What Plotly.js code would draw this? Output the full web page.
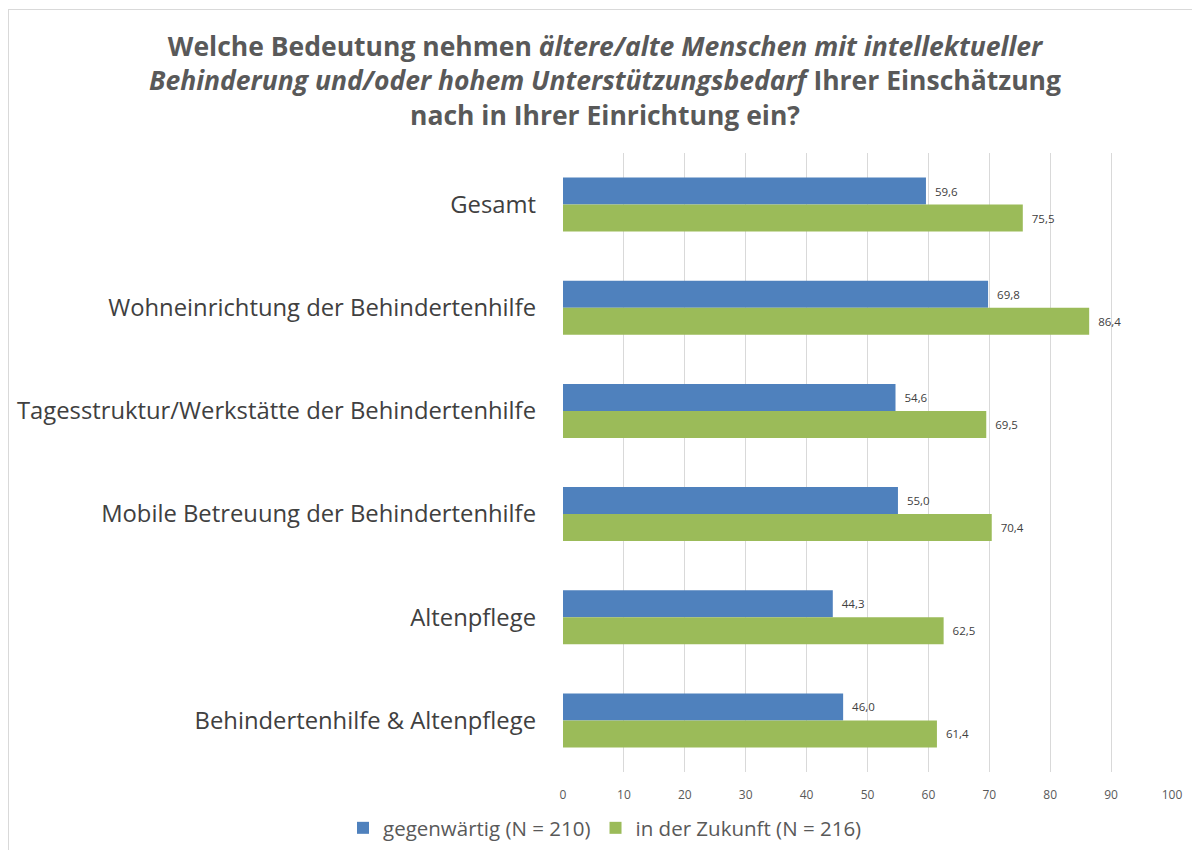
<!DOCTYPE html>
<html>
<head>
<meta charset="utf-8">
<script src="https://cdn.plot.ly/plotly-3.0.1.min.js"></script>
<style>
html,body{margin:0;padding:0;background:#fff;}
#chart{width:1192px;height:850px;}
#frame{position:absolute;left:8px;top:9px;width:1300px;height:1000px;border-left:1px solid #d9d9d9;border-top:1px solid #d9d9d9;pointer-events:none;}
</style>
</head>
<body>
<div id="chart"></div>
<div id="frame"></div>
<script>
const categories = [
  "Gesamt",
  "Wohneinrichtung der Behindertenhilfe",
  "Tagesstruktur/Werkstätte der Behindertenhilfe",
  "Mobile Betreuung der Behindertenhilfe",
  "Altenpflege",
  "Behindertenhilfe & Altenpflege"
];
const gegenwaertig = [59.6, 69.8, 54.6, 55.0, 44.3, 46.0];
const zukunft = [75.5, 86.4, 69.5, 70.4, 62.5, 61.4];
const seriesNames = ["gegenwärtig (N = 210)", "in der Zukunft (N = 216)"];
const xTicks = [0,10,20,30,40,50,60,70,80,90,100];

const FONT = "'Open Sans', Lato, sans-serif";
const labelFont = {family: FONT, size: 11.5, color: "#404040"};

const traces = [
  {type: "bar", orientation: "h", name: seriesNames[0], y: categories, x: gegenwaertig,
   marker: {color: "#4F81BD"}, texttemplate: "\u00a0\u00a0%{x:.1f}",
   textposition: "outside", textfont: labelFont, cliponaxis: false, hoverinfo: "x"},
  {type: "bar", orientation: "h", name: seriesNames[1], y: categories, x: zukunft,
   marker: {color: "#9BBB59"}, texttemplate: "\u00a0\u00a0%{x:.1f}",
   textposition: "outside", textfont: labelFont, cliponaxis: false, hoverinfo: "x"}
];

const layout = {
  width: 1192, height: 850,
  paper_bgcolor: "#fff", plot_bgcolor: "#fff",
  separators: ",.",
  margin: {l: 563, r: 20, t: 153, b: 78},
  font: {family: FONT, color: "#595959"},
  title: {
    text: "<b>Welche Bedeutung nehmen <i>ältere/alte Menschen mit intellektueller</i><br><i>Behinderung und/oder hohem Unterstützungsbedarf</i> Ihrer Einschätzung<br>nach in Ihrer Einrichtung ein?</b>",
    font: {family: FONT, size: 26.5, color: "#595959"},
    x: 605/1192, xref: "container", xanchor: "center",
    y: 1 - 56/850, yref: "container", yanchor: "top"
  },
  barmode: "group", bargap: 0.476, bargroupgap: 0,
  xaxis: {
    range: [0, 100], tickvals: xTicks, ticktext: xTicks.map(String),
    showgrid: true, gridcolor: "#d9d9d9", gridwidth: 1, zeroline: false,
    showline: false, ticks: "", ticklabelstandoff: 14,
    tickfont: {family: FONT, size: 12, color: "#595959"}, fixedrange: true
  },
  yaxis: {
    autorange: "reversed", showgrid: false, zeroline: false, showline: false,
    ticks: "", ticklabelstandoff: 26,
    tickfont: {family: FONT, size: 23.8, color: "#404040"}, fixedrange: true
  },
  showlegend: true,
  legend: {
    orientation: "h", x: 605/1192, xref: "container", xanchor: "center",
    y: 1 - 828/850, yref: "container", yanchor: "middle",
    font: {family: FONT, size: 20.5, color: "#595959"},
    itemwidth: 30, traceorder: "normal"
  }
};

Plotly.newPlot("chart", traces, layout, {displayModeBar: false, staticPlot: true});
</script>
</body>
</html>
